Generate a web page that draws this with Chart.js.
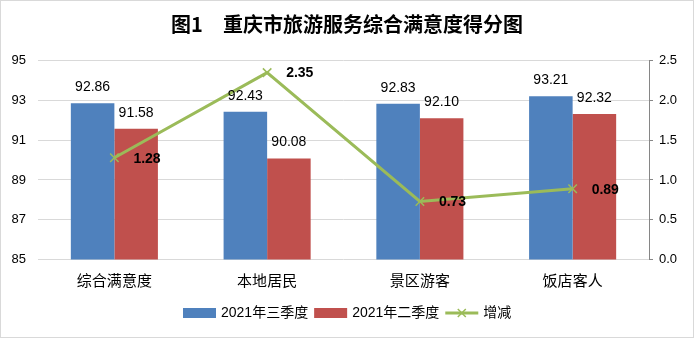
<!DOCTYPE html>
<html>
<head>
<meta charset="utf-8">
<script src="https://cdn.jsdelivr.net/npm/chart.js@4.4.0/dist/chart.umd.min.js"></script>
<style>
  html, body { margin: 0; padding: 0; background: #fff; }
  #wrap { width: 694px; height: 338px; position: relative; }
  canvas { display: block; }
</style>
</head>
<body>
<div id="wrap"><canvas id="c" width="694" height="338"></canvas></div>
<script>
// 重庆市旅游服务综合满意度得分
const categories = ['综合满意度', '本地居民', '景区游客', '饭店客人'];
const q3Scores = [92.86, 92.43, 92.83, 93.21];   // 2021年三季度
const q2Scores = [91.58, 90.08, 92.10, 92.32];   // 2021年二季度
const changes = [1.28, 2.35, 0.73, 0.89];        // 增减
const seriesNames = ['2021年三季度', '2021年二季度', '增减'];
const titleText = '图1\u3000重庆市旅游服务综合满意度得分图';

const BLUE = '#4f81bd';
const RED = '#c0504d';
const GREEN = '#9bbb59';
const LATIN = "'Liberation Sans', 'Noto Sans CJK SC', sans-serif";
const CJK = "'Noto Sans CJK SC', sans-serif";

// value labels above bars and beside line points
const valueLabels = {
  id: 'valueLabels',
  afterDatasetsDraw(chart) {
    const ctx = chart.ctx;
    ctx.save();
    ctx.fillStyle = '#000';
    ctx.textBaseline = 'middle';
    chart.data.datasets.forEach((ds, i) => {
      const meta = chart.getDatasetMeta(i);
      meta.data.forEach((el, j) => {
        const v = ds.data[j];
        if (ds.type === 'bar') {
          ctx.font = '14px ' + LATIN;
          ctx.textAlign = 'center';
          ctx.fillText(v.toFixed(2), el.x, el.y - 16);
        } else {
          ctx.font = 'bold 14px ' + LATIN;
          ctx.textAlign = 'left';
          ctx.fillText(v.toFixed(2), el.x + 19, el.y + 1);
        }
      });
    });
    ctx.restore();
  }
};

// bottom legend and outer frame
const legendAndFrame = {
  id: 'legendAndFrame',
  afterDraw(chart) {
    const ctx = chart.ctx;
    ctx.save();
    ctx.font = '14px ' + LATIN;
    ctx.textBaseline = 'middle';
    const sw = 33, gapIn = 5, gapOut = 6, cy = 313;
    const items = chart.data.datasets.map(ds => ({
      text: ds.label, type: ds.type, color: ds.type === 'bar' ? ds.backgroundColor : ds.borderColor
    }));
    let total = 0;
    items.forEach((it, k) => {
      total += sw + gapIn + ctx.measureText(it.text).width + (k < items.length - 1 ? gapOut : 0);
    });
    let x = Math.round(chart.width / 2 - total / 2);
    items.forEach(it => {
      if (it.type === 'bar') {
        ctx.fillStyle = it.color;
        ctx.fillRect(x, cy - 5, sw, 10);
      } else {
        ctx.strokeStyle = it.color;
        ctx.lineWidth = 3;
        ctx.beginPath();
        ctx.moveTo(x, cy); ctx.lineTo(x + sw, cy);
        ctx.stroke();
        ctx.lineWidth = 1.5;
        const mx = x + sw / 2, r = 4;
        ctx.beginPath();
        ctx.moveTo(mx - r, cy - r); ctx.lineTo(mx + r, cy + r);
        ctx.moveTo(mx - r, cy + r); ctx.lineTo(mx + r, cy - r);
        ctx.stroke();
      }
      x += sw + gapIn;
      ctx.fillStyle = '#000';
      ctx.textAlign = 'left';
      ctx.fillText(it.text, x, cy);
      x += ctx.measureText(it.text).width + gapOut;
    });
    ctx.strokeStyle = '#d9d9d9';
    ctx.lineWidth = 1;
    ctx.strokeRect(0.5, 0.5, chart.width - 1, chart.height - 1);
    ctx.restore();
  }
};

new Chart(document.getElementById('c'), {
  data: {
    labels: categories,
    datasets: [
      {
        type: 'bar', label: seriesNames[0], data: q3Scores, yAxisID: 'y', order: 1,
        backgroundColor: BLUE, categoryPercentage: 0.57, barPercentage: 1
      },
      {
        type: 'bar', label: seriesNames[1], data: q2Scores, yAxisID: 'y', order: 1,
        backgroundColor: RED, categoryPercentage: 0.57, barPercentage: 1
      },
      {
        type: 'line', label: seriesNames[2], data: changes, yAxisID: 'y1', order: 0,
        borderColor: GREEN, backgroundColor: GREEN, borderWidth: 3, tension: 0,
        pointStyle: 'crossRot', pointRadius: 6, pointBorderWidth: 1.5,
        pointBorderColor: GREEN, pointBackgroundColor: GREEN
      }
    ]
  },
  options: {
    responsive: false,
    animation: false,
    devicePixelRatio: 1,
    layout: { padding: 0 },
    plugins: {
      legend: { display: false },
      tooltip: { enabled: false },
      title: {
        display: true,
        text: titleText,
        color: '#000',
        font: { family: CJK, size: 20, weight: 'bold', lineHeight: 1.2 },
        padding: { top: 12, bottom: 24.7 }
      }
    },
    scales: {
      x: {
        grid: { display: false },
        border: { display: false },
        ticks: { color: '#000', font: { family: CJK, size: 15 }, padding: 4, maxRotation: 0 },
        afterFit(s) { s.height = 78.5; }
      },
      y: {
        position: 'left',
        min: 85, max: 95,
        ticks: { stepSize: 2, color: '#000', font: { family: LATIN, size: 13 }, padding: 12 },
        grid: { color: '#d9d9d9', drawTicks: false },
        border: { display: false },
        afterFit(s) { s.width = 38; }
      },
      y1: {
        position: 'right',
        min: 0, max: 2.5,
        ticks: {
          stepSize: 0.5, color: '#000', font: { family: LATIN, size: 13 }, padding: 6,
          callback: v => Number(v).toFixed(1)
        },
        grid: { drawOnChartArea: false, drawTicks: true, tickLength: 4, color: '#868686' },
        border: { display: true, color: '#868686' },
        afterFit(s) { s.width = 45; }
      }
    }
  },
  plugins: [valueLabels, legendAndFrame]
});
</script>
</body>
</html>
